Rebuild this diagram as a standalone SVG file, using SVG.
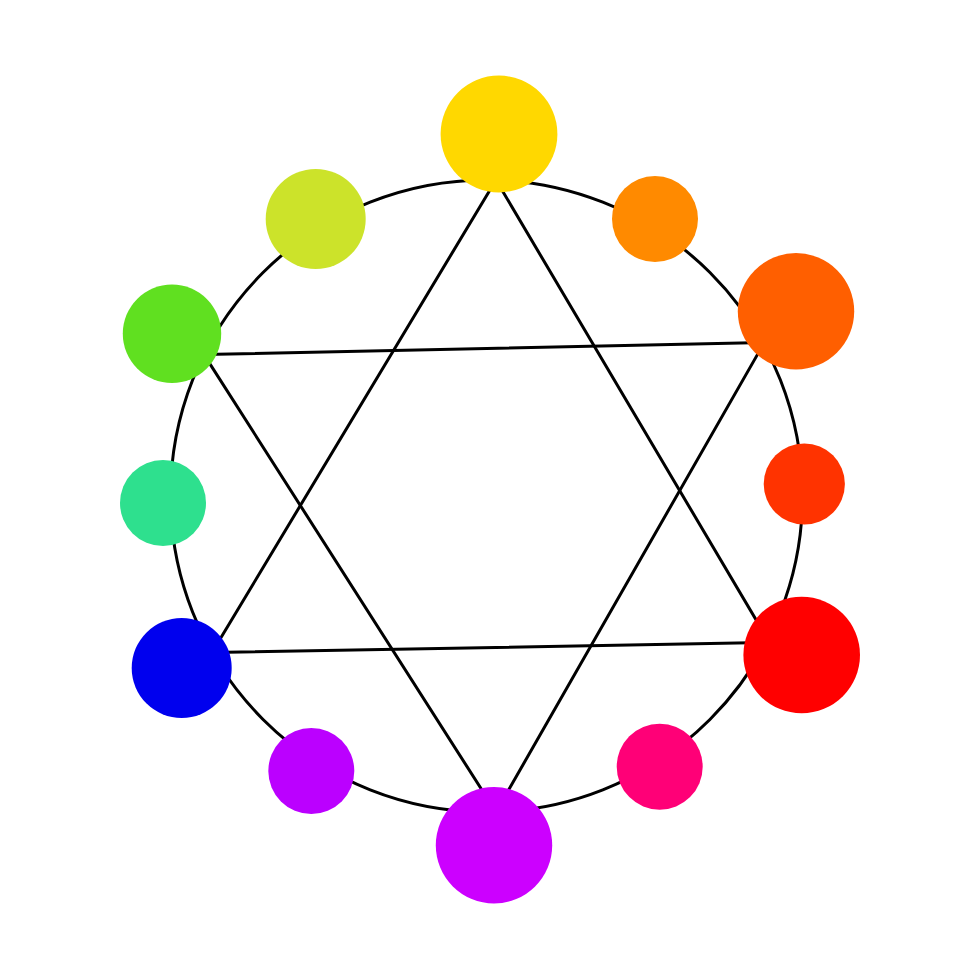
<svg xmlns="http://www.w3.org/2000/svg" width="980" height="980" viewBox="0 0 980 980">
<style>
.ln{fill:none;stroke:#000;stroke-width:3;stroke-linejoin:round}
</style>
<rect width="980" height="980" fill="#fff"/>
<g id="connectors">
<circle class="ln" cx="486.5" cy="496" r="316"/>
<polygon class="ln" points="496,180 769.5,642.5 212,652.5"/>
<polygon class="ln" points="204,354.6 764.4,342.4 496,812"/>
</g>
<g id="node-yellow"><circle cx="499" cy="134" r="58.4" fill="#FFD800"/></g>
<g id="node-orange"><circle cx="655" cy="219" r="43" fill="#FF8A00"/></g>
<g id="node-orange-red"><circle cx="796" cy="311.3" r="58.2" fill="#FF5F00"/></g>
<g id="node-red-orange"><circle cx="804.3" cy="484" r="40.6" fill="#FF3300"/></g>
<g id="node-red"><circle cx="801.7" cy="655" r="58.3" fill="#FF0000"/></g>
<g id="node-pink"><circle cx="659.7" cy="766.7" r="43" fill="#FF0077"/></g>
<g id="node-magenta"><circle cx="494" cy="845.3" r="58.2" fill="#CC00FF"/></g>
<g id="node-purple"><circle cx="311.3" cy="771" r="43" fill="#BB00FF"/></g>
<g id="node-blue"><circle cx="181.7" cy="668" r="50" fill="#0000EE"/></g>
<g id="node-teal"><circle cx="163" cy="503" r="43" fill="#2EE08E"/></g>
<g id="node-green"><circle cx="172" cy="333.7" r="49.2" fill="#60E020"/></g>
<g id="node-yellow-green"><circle cx="315.7" cy="219" r="50" fill="#CCE32A"/></g>
</svg>
